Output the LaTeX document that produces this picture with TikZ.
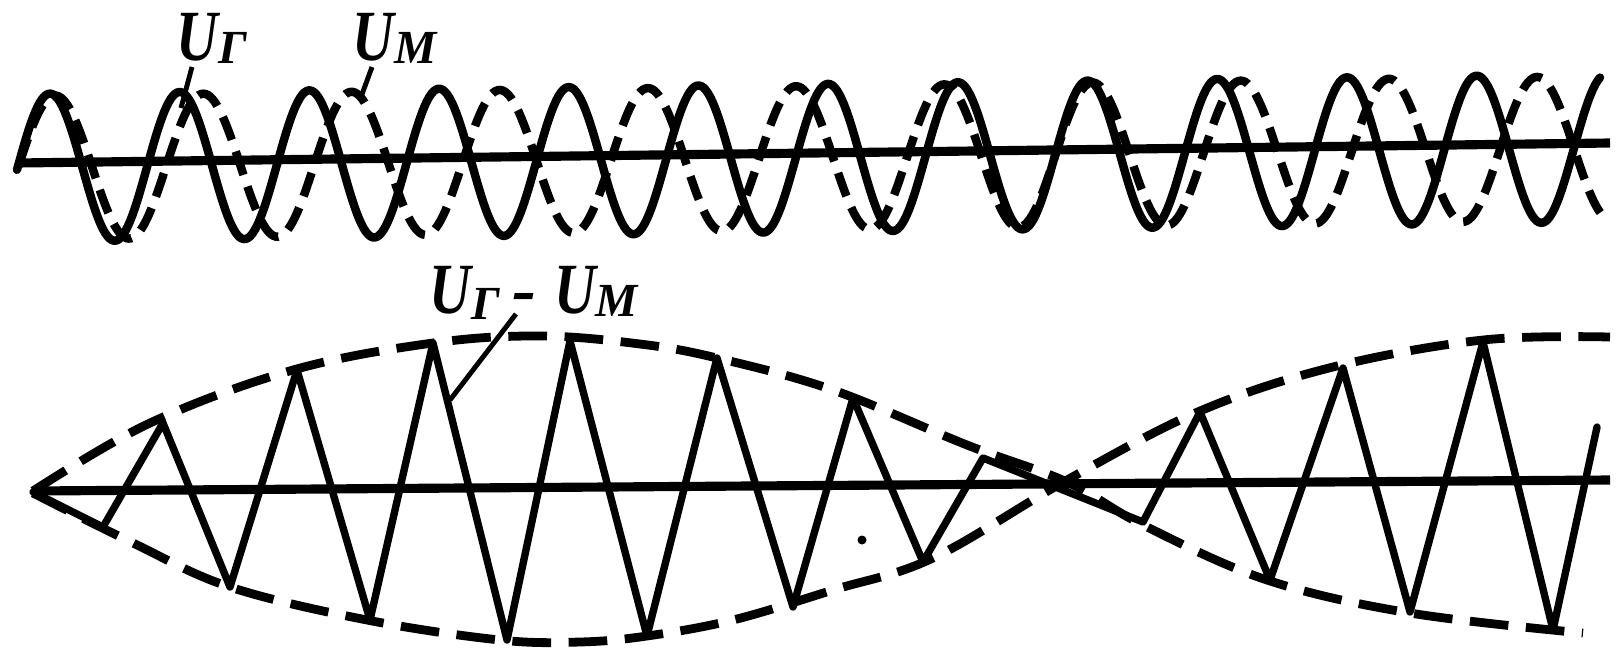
\documentclass[tikz,border=0pt]{standalone}
\usepackage{fontspec}
\usepackage{graphicx}
\setmainfont{Liberation Serif}
\begin{document}
\begin{tikzpicture}[x=0.01cm,y=-0.01cm,
  axisline/.style={line width=2.6pt},
  wave/.style={line width=2.4pt, line cap=round, line join=round},
  dashwave/.style={line width=2.4pt, dash pattern=on 7pt off 3.5pt},
  envelope/.style={line width=2.5pt, dash pattern=on 11pt off 5pt},
  zig/.style={line width=2.1pt, line join=round, line cap=round},
  leader/.style={line width=1.4pt},
  lbl/.style={font=\bfseries\itshape\fontsize{20.5}{24}\selectfont, inner sep=0pt}]
\useasboundingbox (0,0) rectangle (1624,648);

% ---------- upper plot ----------
\coordinate (tA) at (17,163);
\coordinate (tB) at (1610,143);
\draw[axisline] (tA) -- (tB);
\draw[wave] plot[domain=17:1600, samples=700]
  (\x, {168 - 0.012555*(\x-17) - 74*sin(2.77563*(\x-17.5))});
\draw[dashwave] plot[domain=20:1603, samples=700]
  (\x, {168 - 0.012555*(\x-17) - 72*sin(2.42915*(\x-18))});

\node[lbl, anchor=base west] (ug) at (176,60)
  {\scalebox{0.8}[1]{U}\raisebox{-0.03cm}{\fontsize{13.5}{16}\selectfont Г}};
\node[lbl, anchor=base west] (um) at (352,60)
  {\scalebox{0.8}[1]{U}\raisebox{-0.03cm}{\fontsize{13.5}{16}\selectfont М}};
\coordinate (ugA) at (192,67);
\coordinate (ugB) at (181,108);
\coordinate (umA) at (372,67);
\coordinate (umB) at (361,97);
\draw[leader] (ugA) -- (ugB);
\draw[leader] (umA) -- (umB);

% ---------- lower plot ----------
\coordinate (bA) at (33,491);
\coordinate (bB) at (1610,480);
\draw[axisline] (bA) -- (bB);

\draw[envelope] plot[smooth, tension=0.6] coordinates {
  (33,491) (150,423) (293,370) (433,343) (540,336) (640,344) (717,358)
  (833,390) (967,445) (1067,482) (1143,525) (1267,580) (1410,613) (1583,633)};
\draw[envelope] plot[smooth, tension=0.6] coordinates {
  (33,493) (133,543) (230,587) (367,620) (500,640) (580,642) (647,636)
  (733,620) (833,590) (933,558) (1067,480) (1200,411) (1333,367)
  (1483,340) (1610,337)};

\draw[zig] (33,492) -- (103,527) -- (163,423) -- (230,587) -- (297,370)
  -- (370,620) -- (433,343) -- (507,640) -- (570,341) -- (647,636)
  -- (717,358) -- (793,607) -- (853,398) -- (923,562) -- (983,458)
  -- (1143,522) -- (1200,412) -- (1270,580) -- (1343,368) -- (1410,612)
  -- (1483,342) -- (1553,630) -- (1597,427);

\fill (862,540) circle (4.5);

\node[lbl, anchor=base west] (ugm) at (429,313)
  {\scalebox{0.8}[1]{U}\raisebox{-0.06cm}{\fontsize{13.5}{16}\selectfont Г}\hspace{0.12cm}-\hspace{0.18cm}\scalebox{0.8}[1]{U}\raisebox{-0.03cm}{\fontsize{13.5}{16}\selectfont М}};
\coordinate (ugmA) at (516,314);
\coordinate (ugmB) at (450,400);
\draw[leader] (ugmA) -- (ugmB);
\end{tikzpicture}
\end{document}
